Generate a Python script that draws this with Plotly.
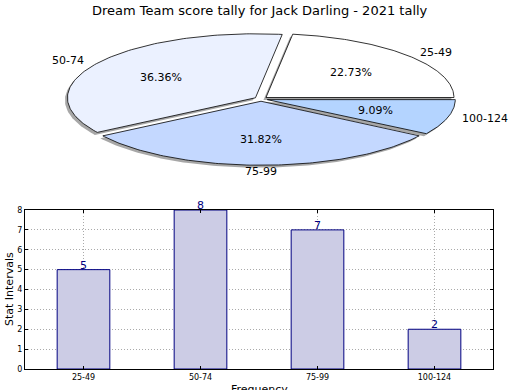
import numpy as np
import plotly.graph_objects as go

# ---- data ----
categories = ["25-49", "50-74", "75-99", "100-124"]
counts = [5, 8, 7, 2]
slice_colors = ["#FFFFFF", "#EBF1FF", "#C4D8FF", "#B4D4FF"]
y_ticks = [0, 1, 2, 3, 4, 5, 6, 7, 8]
chart_title = "Dream Team score tally for Jack Darling - 2021 tally"
y_title = "Stat Intervals"
x_title = "Frequency"
watermark = "Dream-Stats.com"

# ---- layout constants (pixels) ----
W, H = 520, 404          # figure slightly taller than the 390 window (bottom is cropped)
cx, cy, rx, ry = 261, 99, 188, 64
explode = 0.035
label_dist = 1.07
pct_dist = 0.6
sdx, sdy = -2.5, 2.5
font = "DejaVu Sans"

total = sum(counts)
fracs = [c / total for c in counts]
starts = np.concatenate([[0], np.cumsum(fracs)[:-1]]) * 360

fig = go.Figure()
annotations = []


def wedge(ox, oy, a0, a1):
    t = np.radians(np.linspace(a0, a1, 120))
    xs = np.concatenate([[ox], ox + rx * np.cos(t), [ox]])
    ys = np.concatenate([[oy], oy - ry * np.sin(t), [oy]])
    return xs, ys


geo = []
for i, (f, s) in enumerate(zip(fracs, starts)):
    a0, a1 = s, s + f * 360
    mid = np.radians((a0 + a1) / 2)
    ox = cx + explode * rx * np.cos(mid)
    oy = cy - explode * ry * np.sin(mid)
    geo.append((a0, a1, mid, ox, oy))

# shadows
for a0, a1, mid, ox, oy in geo:
    xs, ys = wedge(ox + sdx, oy + sdy, a0, a1)
    fig.add_trace(go.Scatter(x=xs, y=ys, fill="toself", mode="lines",
                             line=dict(width=0), fillcolor="rgba(80,80,80,0.5)",
                             hoverinfo="skip", showlegend=False))
# wedges
for i, (a0, a1, mid, ox, oy) in enumerate(geo):
    xs, ys = wedge(ox, oy, a0, a1)
    fig.add_trace(go.Scatter(x=xs, y=ys, fill="toself", mode="lines",
                             line=dict(width=0.8, color="black"),
                             fillcolor=slice_colors[i],
                             hoverinfo="skip", showlegend=False))
    lx = ox + label_dist * rx * np.cos(mid)
    ly = oy - label_dist * ry * np.sin(mid)
    c = np.cos(mid)
    xa = "left" if c > 0.01 else ("right" if c < -0.01 else "center")
    annotations.append(dict(x=lx, y=ly + (1.5 if xa == "center" else 0), xref="x", yref="y",
                            text=categories[i],
                            showarrow=False, xanchor=xa, yanchor="middle",
                            font=dict(family=font, size=11, color="black")))
    px = ox + pct_dist * rx * np.cos(mid)
    py = oy - pct_dist * ry * np.sin(mid)
    annotations.append(dict(x=px, y=py, xref="x", yref="y",
                            text=f"{fracs[i]*100:.2f}%",
                            showarrow=False, xanchor="center", yanchor="middle",
                            font=dict(family=font, size=11, color="black")))

# bars
fig.add_trace(go.Bar(x=categories, y=counts, xaxis="x2", yaxis="y2",
                     width=0.45, marker=dict(color="#CCCCE5",
                                             line=dict(color="#000080", width=1)),
                     hoverinfo="skip", showlegend=False))
for c, v in zip(categories, counts):
    annotations.append(dict(x=c, y=v, xref="x2", yref="y2", text=str(v),
                            showarrow=False, xanchor="center", yanchor="bottom",
                            yshift=-4,
                            font=dict(family=font, size=11, color="#000080")))

annotations.append(dict(x=W / 2, y=10, xref="x", yref="y", text=chart_title,
                        showarrow=False, xanchor="center", yanchor="middle",
                        font=dict(family=font, size=13, color="black")))
annotations.append(dict(x=9, y=289, xref="x", yref="y", text=y_title,
                        showarrow=False, textangle=-90, xanchor="center",
                        yanchor="middle",
                        font=dict(family=font, size=11, color="black")))
annotations.append(dict(x=259, y=389, xref="x", yref="y", text=x_title,
                        showarrow=False, xanchor="center", yanchor="middle",
                        font=dict(family=font, size=11, color="black")))
annotations.append(dict(x=-1, y=380, xref="x", yref="y", text="<b>" + watermark + "</b>",
                        showarrow=False, xanchor="left", yanchor="middle",
                        font=dict(family=font, size=12, color="rgba(120,120,120,0.75)")))

x0, x1, y0, y1 = 25, 493, 210, 369
grid = dict(showgrid=True, gridcolor="#aaaaaa", griddash="1px,2px", gridwidth=1)
fig.update_layout(
    width=W, height=H, margin=dict(l=0, r=0, t=0, b=0, autoexpand=False),
    paper_bgcolor="white", plot_bgcolor="rgba(0,0,0,0)",
    xaxis=dict(domain=[0, 1], range=[0, W], visible=False, fixedrange=True),
    yaxis=dict(domain=[0, 1], range=[H, 0], visible=False, fixedrange=True),
    xaxis2=dict(domain=[x0 / W, x1 / W], anchor="y2", range=[-0.5, 3.5],
                showline=True, linecolor="black", linewidth=1, mirror="ticks",
                ticks="inside", ticklen=3, tickcolor="black",
                tickfont=dict(family=font, size=8, color="black"), **grid),
    yaxis2=dict(domain=[(H - y1) / H, (H - y0) / H], anchor="x2", range=[0, 8],
                tickvals=y_ticks,
                showline=True, linecolor="black", linewidth=1, mirror="ticks",
                zeroline=False,
                ticks="inside", ticklen=3, tickcolor="black",
                tickfont=dict(family=font, size=8, color="black"), **grid),
    annotations=annotations,
)
fig.write_html("out.html", config={"displayModeBar": False},
               post_script="document.body.style.margin='0px';document.body.style.overflow='hidden';")
